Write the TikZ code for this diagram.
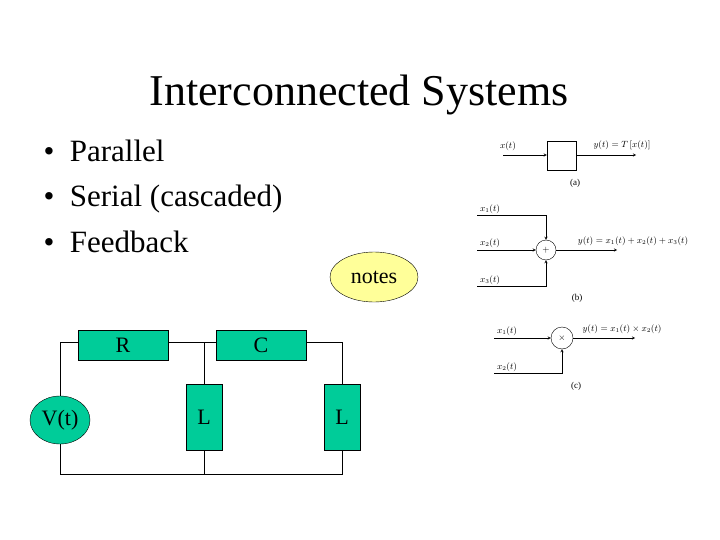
\documentclass[tikz,border=0pt]{standalone}
\usepackage{fontspec}
\setmainfont{Liberation Serif}
\usetikzlibrary{shapes.geometric, arrows, positioning}
\tikzstyle{part} = [draw=black, inner sep=0pt, font=\fontsize{22}{24}\selectfont]
\tikzstyle{wire} = [thin, -]
\tikzstyle{arrow} = [thin,->,>=stealth]
\tikzstyle{sig} = [font=\fontsize{9}{10}\selectfont, inner sep=1pt]
\tikzstyle{junction} = [circle, draw, minimum size=20pt, inner sep=0pt, font=\fontsize{9}{9}\selectfont]
\tikzstyle{bullet} = [anchor=base west, font=\fontsize{31}{34}\selectfont]
\definecolor{partgreen}{RGB}{0,204,153}
\definecolor{noteyellow}{RGB}{255,255,153}
\begin{document}
\begin{tikzpicture}[x=1pt,y=-1pt]
                    \useasboundingbox (0,0) rectangle (720,540);
                    % title and bullets
                    \node (title) at (359,95) {\fontsize{44}{46}\selectfont Interconnected Systems};
                    \node (b1) [bullet] at (40,162) {\textbullet\ \ Parallel};
                    \node (b2) [bullet] at (40,207) {\textbullet\ \ Serial (cascaded)};
                    \node (b3) [bullet] at (40,252) {\textbullet\ \ Feedback};
                    \node (notes) [ellipse, draw, fill=noteyellow, minimum width=88pt, minimum height=50pt, font=\fontsize{22}{24}\selectfont] at (374,277) {notes};
                    % circuit
                    \node (R) [part, fill=partgreen, minimum width=90pt, minimum height=30pt] at (123,345) {R};
                    \node (C) [part, fill=partgreen, minimum width=90pt, minimum height=30pt] at (261,345) {C};
                    \node (L1) [part, fill=partgreen, minimum width=36pt, minimum height=66pt] at (204,417) {L};
                    \node (L2) [part, fill=partgreen, minimum width=36pt, minimum height=66pt] at (342,417) {L};
                    \node (V) [part, ellipse, fill=partgreen, minimum width=60pt, minimum height=48pt] at (60,420) {V(t)};
                    \coordinate (tl) at (60,342);
                    \coordinate (tm) at (204,342);
                    \coordinate (tr) at (342,342);
                    \coordinate (bl) at (60,474);
                    \coordinate (bm) at (204,474);
                    \coordinate (br) at (342,474);
                    \draw [wire] (V.north) -- (tl) -- (R.west |- tl);
                    \draw [wire] (R.east |- tl) -- (C.west |- tl);
                    \draw [wire] (C.east |- tr) -- (tr) -- (L2.north);
                    \draw [wire] (tm) -- (L1.north);
                    \draw [wire] (V.south) -- (bl) -- (br) -- (L2.south);
                    \draw [wire] (L1.south) -- (bm);
                    % (a)
                    \node (T) [draw, minimum width=29pt, minimum height=29pt, inner sep=0pt] at (561.5,155.5) {};
                    \coordinate (xa) at (503,155);
                    \coordinate (ya) at (636,155);
                    \draw [arrow] (xa) -- (T.west |- xa);
                    \draw [arrow] (T.east |- ya) -- (ya);
                    \node (xalab) [sig] at (508,146) {$x(t)$};
                    \node (yalab) [sig] at (622,145) {$y(t)=T\,[x(t)]$};
                    \node (capa) [sig] at (575,183) {(a)};
                    % (b)
                    \node (plus) [junction] at (546,250) {$+$};
                    \coordinate (x1b) at (477,215);
                    \coordinate (x2b) at (477,250);
                    \coordinate (x3b) at (477,286);
                    \coordinate (yb) at (617,250);
                    \draw [arrow] (x1b) -| (plus.north);
                    \draw [arrow] (x2b) -- (plus.west);
                    \draw [arrow] (x3b) -| (plus.south);
                    \draw [arrow] (plus.east) -- (yb);
                    \node (x1blab) [sig] at (490,209) {$x_1(t)$};
                    \node (x2blab) [sig] at (490,243) {$x_2(t)$};
                    \node (x3blab) [sig] at (490,280) {$x_3(t)$};
                    \node (yblab) [sig] at (633,241) {$y(t)=x_1(t)+x_2(t)+x_3(t)$};
                    \node (capb) [sig] at (577,298) {(b)};
                    % (c)
                    \node (times) [junction, minimum size=22pt] at (562,338) {$\times$};
                    \coordinate (x1c) at (494,338);
                    \coordinate (x2c) at (494,373);
                    \coordinate (yc) at (635,338);
                    \draw [arrow] (x1c) -- (times.west);
                    \draw [arrow] (x2c) -| (times.south);
                    \draw [arrow] (times.east) -- (yc);
                    \node (x1clab) [sig] at (507,331) {$x_1(t)$};
                    \node (x2clab) [sig] at (507,367) {$x_2(t)$};
                    \node (yclab) [sig] at (622,329) {$y(t)=x_1(t)\times x_2(t)$};
                    \node (capc) [sig] at (576,386) {(c)};
                \end{tikzpicture}
\end{document}
